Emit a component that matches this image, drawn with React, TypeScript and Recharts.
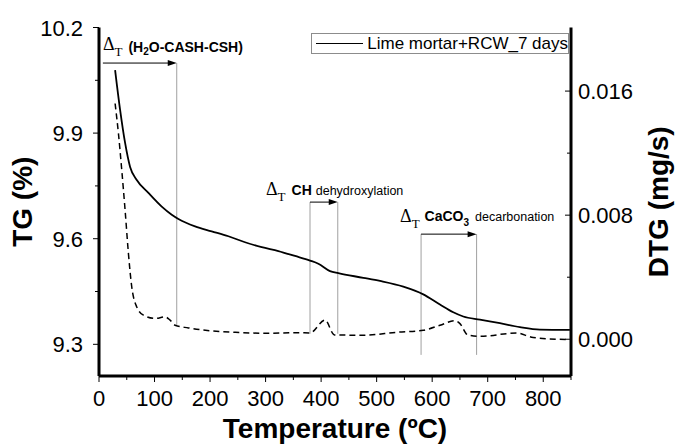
import React from 'react';
import {
  ComposedChart,
  Line,
  XAxis,
  YAxis,
  Legend,
  ReferenceLine,
} from 'recharts';

// TG curve (%)
const tgTemp = [29, 38, 47, 56, 68, 89, 113, 131, 143, 173, 203, 233, 263, 293, 323, 353, 380, 395, 416, 431, 476, 506, 548, 584, 614, 638, 656, 686, 722, 758, 794, 848];
const tgValue = [10.079, 9.966, 9.872, 9.804, 9.767, 9.73, 9.691, 9.668, 9.656, 9.635, 9.621, 9.607, 9.59, 9.576, 9.565, 9.551, 9.538, 9.529, 9.508, 9.502, 9.489, 9.48, 9.464, 9.442, 9.413, 9.391, 9.379, 9.37, 9.36, 9.349, 9.342, 9.341];

// DTG curve (mg/s)
const dtgTemp = [29, 35, 41, 47, 53, 59, 68, 80, 101, 119, 128, 137, 161, 203, 245, 305, 353, 380, 407, 424, 476, 536, 584, 614, 641, 650, 664, 686, 752, 782, 842];
const dtgValue = [0.0152, 0.01327, 0.0109, 0.00832, 0.00553, 0.00337, 0.00208, 0.00155, 0.00134, 0.00144, 0.00123, 0.0009, 0.00073, 0.00054, 0.00045, 0.00038, 0.00042, 0.00041, 0.00124, 0.00028, 0.00026, 0.00045, 0.00058, 0.0009, 0.0012, 0.00101, 0.00028, 0.00019, 0.0004, 0.00011, -0.00002];

// axes
const xTicks = [0, 50, 100, 150, 200, 250, 300, 350, 400, 450, 500, 550, 600, 650, 700, 750, 800, 850];
const tgTicks = [9.3, 9.45, 9.6, 9.75, 9.9, 10.05, 10.2];
const tgLabelled = [9.3, 9.6, 9.9, 10.2];
const dtgTicks = [0, 0.004, 0.008, 0.012, 0.016];
const dtgLabelled = [0, 0.008, 0.016];

// temperature ranges marked on the plot
const guideTemp = [140, 380, 430, 580, 680];
const guideTop = [10.099, 9.704, 9.704, 9.613, 9.613];
const guideBottom = [9.355, 9.33, 9.33, 9.27, 9.27];
const arrowFrom = [7, 380, 580];
const arrowTo = [140, 430, 680];
const arrowLevel = [10.099, 9.704, 9.613];

const tgData = tgTemp.map((t, i) => ({ t, tg: tgValue[i] }));
const dtgData = dtgTemp.map((t, i) => ({ t, dtg: dtgValue[i] }));

const SANS = '"Liberation Sans", Arial, sans-serif';
const SERIF = '"Liberation Serif", "Times New Roman", serif';

const LeftTick = ({ x, y, payload }: any) => {
  const major = tgLabelled.includes(payload.value);
  return (
    <g>
      <line x1={x} x2={x - (major ? 6 : 4)} y1={y} y2={y} stroke="#000" strokeWidth={1} />
      {major && (
        <text x={x - 16} y={y + 8} textAnchor="end" fontSize={22} fontFamily={SANS} fill="#000">
          {payload.value.toFixed(1)}
        </text>
      )}
    </g>
  );
};

const RightTick = ({ x, y, payload }: any) => {
  const major = dtgLabelled.includes(payload.value);
  return (
    <g>
      <line x1={x} x2={x - (major ? 6 : 4)} y1={y} y2={y} stroke="#000" strokeWidth={1} />
      {major && (
        <text x={x + 7} y={y + 8} textAnchor="start" fontSize={22} fontFamily={SANS} fill="#000">
          {payload.value.toFixed(3)}
        </text>
      )}
    </g>
  );
};

const BottomTick = ({ x, y, payload }: any) => {
  const major = payload.value % 100 === 0 && payload.value < 850;
  return (
    <g>
      <line x1={x} x2={x} y1={y} y2={y + (major ? 6 : 4)} stroke="#000" strokeWidth={1} />
      {major && (
        <text x={x} y={y + 30} textAnchor="middle" fontSize={22} fontFamily={SANS} fill="#000">
          {payload.value}
        </text>
      )}
    </g>
  );
};

const deltaT = (
  <>
    <tspan fontFamily={SERIF} fontSize={18}>Δ</tspan>
    <tspan fontFamily={SERIF} fontSize={13} dy={6}>T</tspan>
  </>
);

const arrowLabels = [
  (x: number, y: number) => (
    <text x={x} y={y - 13} fill="#000">
      {deltaT}
      <tspan dx={6} dy={-4} fontFamily={SANS} fontWeight="bold" fontSize={14}>(H</tspan>
      <tspan dy={3} fontFamily={SANS} fontWeight="bold" fontSize={10}>2</tspan>
      <tspan dy={-3} fontFamily={SANS} fontWeight="bold" fontSize={14}>O-CASH-CSH)</tspan>
    </text>
  ),
  (x: number, y: number) => (
    <text x={x - 44} y={y - 7} fill="#000">
      {deltaT}
      <tspan dx={6} dy={-6} fontFamily={SANS} fontWeight="bold" fontSize={14}>CH</tspan>
      <tspan dx={4} fontFamily={SANS} fontSize={12.5}>dehydroxylation</tspan>
    </text>
  ),
  (x: number, y: number) => (
    <text x={x - 21} y={y - 12} fill="#000">
      {deltaT}
      <tspan dx={5} dy={-7} fontFamily={SANS} fontWeight="bold" fontSize={14}>CaCO</tspan>
      <tspan dy={5} fontFamily={SANS} fontWeight="bold" fontSize={10}>3</tspan>
      <tspan dx={6} dy={-5} fontFamily={SANS} fontSize={12.5}>decarbonation</tspan>
    </text>
  ),
];

const arrowShape = (i: number) => (props: any) => {
  const { x1, y1, x2, y2 } = props;
  return (
    <g>
      <line x1={x1} y1={y1} x2={x2 - 6} y2={y2} stroke="#000" strokeWidth={1} />
      <polygon points={`${x2},${y2} ${x2 - 9},${y2 - 3} ${x2 - 9},${y2 + 3}`} fill="#000" />
      {arrowLabels[i](x1, y1)}
    </g>
  );
};

const LegendBox = () => (
  <div
    style={{
      width: 258,
      height: 21,
      boxSizing: 'border-box',
      border: '1px solid #8c8c8c',
      background: '#fff',
      display: 'flex',
      alignItems: 'center',
      fontFamily: SANS,
      fontSize: 17,
      color: '#000',
    }}
  >
    <div style={{ width: 48, height: 0, borderTop: '1.5px solid #000', marginLeft: 4, marginRight: 4 }} />
    <span style={{ whiteSpace: 'nowrap' }}>Lime mortar+RCW_7 days</span>
  </div>
);

const titleStyle = { fontFamily: SANS, fontWeight: 'bold' as const, fontSize: 28, fill: '#000' };

export default function App() {
  return (
    <div style={{ position: 'absolute', left: 0, top: 0, width: 678, height: 446, background: '#fff' }}>
      <ComposedChart width={678} height={446} margin={{ top: 27.5, right: 0, bottom: 0, left: 0 }}>
        <XAxis
          type="number"
          dataKey="t"
          domain={[0, 850]}
          ticks={xTicks}
          interval={0}
          allowDataOverflow
          height={70}
          tickSize={0}
          tickMargin={0}
          tickLine={false}
          tick={BottomTick}
          axisLine={{ stroke: '#000', strokeWidth: 3 }}
          label={{
            content: (p: any) => {
              const vb = p.viewBox || { x: 99, y: 376, width: 472 };
              return (
                <text x={vb.x + vb.width / 2} y={vb.y + 62} textAnchor="middle" style={titleStyle}>
                  Temperature (ºC)
                </text>
              );
            },
          }}
        />
        <XAxis
          xAxisId="top"
          orientation="top"
          type="number"
          domain={[0, 850]}
          allowDataOverflow
          height={0}
          tick={false}
          tickLine={false}
          axisLine={{ stroke: '#000', strokeWidth: 3 }}
        />
        <YAxis
          yAxisId="tg"
          type="number"
          domain={[9.21, 10.2]}
          ticks={tgTicks}
          interval={0}
          allowDataOverflow
          width={99}
          tickSize={0}
          tickMargin={0}
          tickLine={false}
          tick={LeftTick}
          axisLine={{ stroke: '#000', strokeWidth: 3 }}
          label={{
            content: (p: any) => {
              const vb = p.viewBox || { x: 0, y: 27.5, height: 348.5 };
              const cx = vb.x + 32;
              const cy = vb.y + vb.height / 2;
              return (
                <text x={cx} y={cy} textAnchor="middle" transform={`rotate(-90, ${cx}, ${cy})`} style={titleStyle}>
                  TG (%)
                </text>
              );
            },
          }}
        />
        <YAxis
          yAxisId="dtg"
          orientation="right"
          type="number"
          domain={[-0.00237, 0.0201]}
          ticks={dtgTicks}
          interval={0}
          allowDataOverflow
          width={107}
          tickSize={0}
          tickMargin={0}
          tickLine={false}
          tick={RightTick}
          axisLine={{ stroke: '#000', strokeWidth: 3 }}
          label={{
            content: (p: any) => {
              const vb = p.viewBox || { x: 571, y: 27.5, height: 348.5 };
              const cx = vb.x + 97;
              const cy = vb.y + vb.height / 2;
              return (
                <text x={cx} y={cy} textAnchor="middle" transform={`rotate(-90, ${cx}, ${cy})`} style={titleStyle}>
                  DTG (mg/s)
                </text>
              );
            },
          }}
        />
        <Legend
          layout="horizontal"
          verticalAlign="middle"
          align="center"
          content={LegendBox}
          wrapperStyle={{ left: 311, top: 33, width: 258, height: 21 }}
        />
        {guideTemp.map((t, i) => (
          <ReferenceLine
            key={`g${i}`}
            yAxisId="tg"
            segment={[{ x: t, y: guideTop[i] }, { x: t, y: guideBottom[i] }]}
            stroke="#a0a0a0"
            strokeWidth={1}
            ifOverflow="visible"
          />
        ))}
        {arrowFrom.map((t, i) => (
          <ReferenceLine
            key={`a${i}`}
            yAxisId="tg"
            segment={[{ x: t, y: arrowLevel[i] }, { x: arrowTo[i], y: arrowLevel[i] }]}
            shape={arrowShape(i)}
            ifOverflow="visible"
          />
        ))}
        <Line
          yAxisId="dtg"
          data={dtgData}
          dataKey="dtg"
          type="monotone"
          stroke="#000"
          strokeWidth={1.5}
          strokeDasharray="6 4"
          dot={false}
          isAnimationActive={false}
          legendType="none"
        />
        <Line
          yAxisId="tg"
          data={tgData}
          dataKey="tg"
          type="monotone"
          stroke="#000"
          strokeWidth={1.8}
          dot={false}
          isAnimationActive={false}
          name="Lime mortar+RCW_7 days"
        />
      </ComposedChart>
    </div>
  );
}
